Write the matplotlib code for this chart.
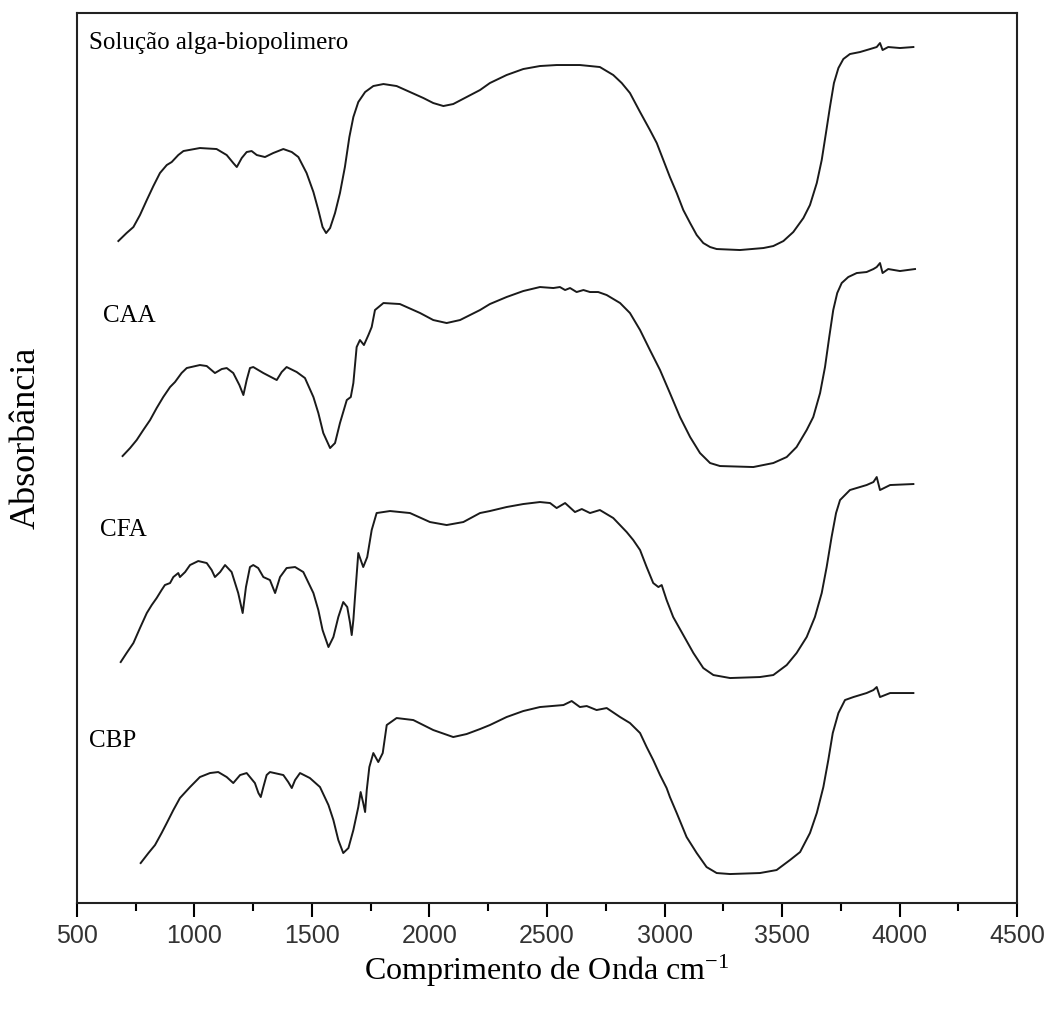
import matplotlib.pyplot as plt
from matplotlib.ticker import MultipleLocator

plt.rcParams['mathtext.fontset'] = 'stix'

# espectros (numero de onda cm-1, absorbancia deslocada)
wn_sol = [676, 711, 740, 768, 797, 825, 853, 882, 903, 931, 953, 1023, 1094, 1137, 1165,
          1180, 1201, 1222, 1243, 1265, 1300, 1335, 1378, 1414, 1442, 1477, 1506, 1527,
          1545, 1560, 1577, 1598, 1619, 1640, 1659, 1676, 1697, 1726, 1761, 1804, 1860,
          1917, 1974, 2016, 2059, 2101, 2158, 2215, 2257, 2328, 2399, 2470, 2541, 2640,
          2683, 2725, 2782, 2818, 2853, 2896, 2938, 2967, 2995, 3023, 3052, 3080, 3109,
          3137, 3165, 3194, 3222, 3321, 3421, 3463, 3506, 3548, 3591, 3619, 3648, 3669,
          3687, 3704, 3721, 3740, 3761, 3789, 3832, 3875, 3903, 3917, 3928, 3952, 4002, 4059]
ab_sol = [6.62, 6.70, 6.76, 6.88, 7.03, 7.17, 7.30, 7.38, 7.41, 7.48, 7.52, 7.55, 7.54, 7.48, 7.40,
          7.36, 7.45, 7.51, 7.52, 7.48, 7.46, 7.50, 7.54, 7.51, 7.46, 7.30, 7.11, 6.93,
          6.76, 6.70, 6.75, 6.90, 7.10, 7.36, 7.66, 7.86, 8.01, 8.11, 8.17, 8.19, 8.17,
          8.11, 8.05, 8.00, 7.97, 7.99, 8.06, 8.13, 8.20, 8.28, 8.34, 8.37, 8.38, 8.38,
          8.37, 8.36, 8.28, 8.20, 8.10, 7.91, 7.73, 7.60, 7.43, 7.26, 7.10, 6.93, 6.80,
          6.68, 6.60, 6.56, 6.54, 6.53, 6.55, 6.57, 6.62, 6.71, 6.85, 6.98, 7.20, 7.43,
          7.70, 7.96, 8.20, 8.35, 8.44, 8.49, 8.51, 8.54, 8.56, 8.60, 8.53, 8.56, 8.55, 8.56]

wn_caa = [694, 726, 754, 782, 811, 839, 867, 896, 917, 945, 967, 1023, 1052, 1087, 1116,
          1137, 1165, 1191, 1208, 1222, 1236, 1250, 1293, 1350, 1371, 1392, 1435, 1470,
          1506, 1527, 1548, 1577, 1598, 1619, 1648, 1665, 1676, 1690, 1704, 1721, 1740,
          1754, 1768, 1804, 1874, 1960, 2016, 2073, 2130, 2215, 2257, 2328, 2399, 2470,
          2527, 2555, 2577, 2598, 2626, 2655, 2683, 2718, 2754, 2811, 2853, 2896, 2938,
          2981, 3023, 3066, 3109, 3151, 3194, 3236, 3378, 3463, 3520, 3562, 3605, 3633,
          3662, 3683, 3701, 3718, 3735, 3754, 3782, 3818, 3860, 3889, 3903, 3917, 3928,
          3952, 4002, 4066]
ab_caa = [4.47, 4.55, 4.63, 4.73, 4.83, 4.95, 5.06, 5.16, 5.21, 5.30, 5.35, 5.38, 5.37, 5.30, 5.34,
          5.35, 5.30, 5.18, 5.08, 5.23, 5.35, 5.36, 5.30, 5.23, 5.31, 5.36, 5.31, 5.25,
          5.06, 4.90, 4.70, 4.55, 4.60, 4.80, 5.03, 5.06, 5.20, 5.56, 5.63, 5.58, 5.68,
          5.76, 5.93, 6.00, 5.99, 5.90, 5.83, 5.80, 5.83, 5.93, 5.99, 6.06, 6.12, 6.16,
          6.15, 6.16, 6.13, 6.15, 6.11, 6.13, 6.11, 6.11, 6.08, 6.00, 5.90, 5.73, 5.53,
          5.33, 5.10, 4.86, 4.66, 4.50, 4.40, 4.37, 4.36, 4.40, 4.46, 4.56, 4.73, 4.86,
          5.10, 5.36, 5.66, 5.93, 6.10, 6.20, 6.26, 6.30, 6.31, 6.34, 6.36, 6.40, 6.30,
          6.34, 6.32, 6.34]

wn_cfa = [686, 711, 740, 768, 797, 818, 839, 860, 874, 896, 910, 931, 938, 960, 981, 1016,
          1052, 1073, 1087, 1109, 1130, 1158, 1186, 1205, 1219, 1236, 1250, 1271, 1293,
          1321, 1343, 1364, 1392, 1428, 1463, 1506, 1527, 1545, 1570, 1591, 1612, 1633,
          1650, 1662, 1669, 1676, 1683, 1697, 1718, 1735, 1754, 1775, 1832, 1917, 2002,
          2073, 2144, 2215, 2257, 2328, 2399, 2470, 2513, 2541, 2577, 2619, 2648, 2683,
          2725, 2782, 2839, 2867, 2896, 2924, 2952, 2974, 2988, 3009, 3037, 3080, 3123,
          3165, 3208, 3279, 3406, 3463, 3520, 3562, 3605, 3640, 3669, 3690, 3711, 3730,
          3747, 3789, 3860, 3889, 3903, 3917, 3960, 4059]
ab_cfa = [2.41, 2.50, 2.60, 2.75, 2.90, 2.98, 3.05, 3.13, 3.18, 3.20, 3.26, 3.30, 3.26, 3.31, 3.38, 3.42,
          3.40, 3.33, 3.26, 3.31, 3.38, 3.31, 3.10, 2.90, 3.16, 3.36, 3.38, 3.35, 3.26,
          3.23, 3.10, 3.26, 3.35, 3.36, 3.31, 3.10, 2.93, 2.73, 2.56, 2.66, 2.86, 3.01,
          2.96, 2.80, 2.68, 2.83, 3.06, 3.50, 3.36, 3.46, 3.73, 3.90, 3.92, 3.90, 3.81,
          3.78, 3.81, 3.90, 3.92, 3.96, 3.99, 4.01, 4.00, 3.95, 4.00, 3.91, 3.94, 3.90,
          3.93, 3.85, 3.71, 3.63, 3.53, 3.36, 3.20, 3.16, 3.18, 3.03, 2.86, 2.68, 2.50,
          2.35, 2.28, 2.25, 2.26, 2.28, 2.38, 2.50, 2.66, 2.86, 3.10, 3.36, 3.66, 3.90,
          4.03, 4.13, 4.18, 4.21, 4.26, 4.13, 4.18, 4.19]

wn_cbp = [771, 804, 832, 860, 882, 910, 938, 981, 1023, 1066, 1101, 1137, 1165, 1194, 1222,
          1257, 1272, 1282, 1293, 1307, 1321, 1378, 1399, 1414, 1428, 1449, 1491, 1534,
          1570, 1591, 1612, 1633, 1655, 1676, 1697, 1707, 1718, 1726, 1733, 1744, 1761,
          1782, 1801, 1818, 1860, 1931, 2016, 2101, 2158, 2215, 2257, 2328, 2399, 2470,
          2570, 2605, 2640, 2669, 2711, 2754, 2811, 2853, 2896, 2924, 2952, 2981, 3009,
          3023, 3052, 3094, 3137, 3179, 3222, 3279, 3406, 3477, 3534, 3577, 3619, 3648,
          3676, 3697, 3716, 3740, 3768, 3804, 3860, 3889, 3903, 3917, 3960, 4059]
ab_cbp = [0.40, 0.50, 0.58, 0.70, 0.80, 0.93, 1.05, 1.16, 1.26, 1.30, 1.31, 1.26, 1.20, 1.28, 1.30,
          1.20, 1.10, 1.06, 1.16, 1.28, 1.31, 1.28, 1.21, 1.15, 1.23, 1.30, 1.25, 1.16,
          0.98, 0.83, 0.63, 0.50, 0.55, 0.73, 0.96, 1.11, 1.00, 0.91, 1.13, 1.36, 1.50,
          1.41, 1.50, 1.78, 1.85, 1.83, 1.73, 1.66, 1.69, 1.74, 1.78, 1.86, 1.92, 1.96,
          1.98, 2.02, 1.96, 1.97, 1.93, 1.95, 1.86, 1.80, 1.70, 1.56, 1.43, 1.28, 1.15,
          1.06, 0.90, 0.66, 0.50, 0.36, 0.30, 0.29, 0.30, 0.33, 0.43, 0.51, 0.70, 0.90,
          1.16, 1.43, 1.70, 1.90, 2.03, 2.06, 2.10, 2.13, 2.16, 2.06, 2.10, 2.10]

labels = ['Solução alga-biopolimero', 'CAA', 'CFA', 'CBP']
label_pos = [(551, 8.60), (610, 5.87), (598, 3.73), (552, 1.62)]

fig = plt.figure(figsize=(10.49, 10.10), dpi=100)
ax = fig.add_axes([0.0734, 0.1059, 0.8961, 0.8812])

for wn, ab in [(wn_sol, ab_sol), (wn_caa, ab_caa), (wn_cfa, ab_cfa), (wn_cbp, ab_cbp)]:
    ax.plot(wn, ab, color='#1a1a1a', lw=1.4)

for lab, (x, y) in zip(labels, label_pos):
    ax.text(x, y, lab, family='Liberation Serif', fontsize=18, va='center', ha='left')

ax.set_xlim(500, 4500)
ax.set_ylim(0, 8.9)
ax.xaxis.set_major_locator(MultipleLocator(500))
ax.xaxis.set_minor_locator(MultipleLocator(250))
ax.set_yticks([])
ax.tick_params(axis='x', which='major', length=10, width=1.5, labelsize=18, pad=5)
ax.tick_params(axis='x', which='minor', length=6, width=1.5)
for lbl in ax.get_xticklabels():
    lbl.set_family('Liberation Sans')
    lbl.set_color('#333333')
for s in ax.spines.values():
    s.set_linewidth(1.5)
    s.set_color('#222222')

ax.set_xlabel('Comprimento de Onda cm$^{\\mathregular{-1}}$', family='Liberation Serif',
              fontsize=23)
ax.xaxis.set_label_coords(0.5, -0.055)
ax.set_ylabel('Absorbância', family='Liberation Serif', fontsize=26)
ax.yaxis.set_label_coords(-0.037, 0.5225)

fig.savefig('out.png', dpi=100)
